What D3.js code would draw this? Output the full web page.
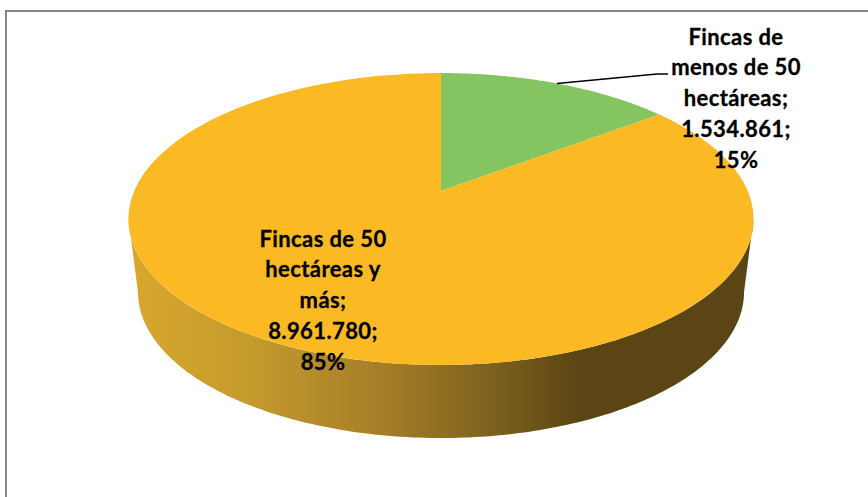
<!DOCTYPE html>
<html>
<head>
	<meta charset="utf-8" />
	<style>
		body {
			margin: 0;
			background-color: #fff;
			overflow: hidden;
		}

		text {
			font: bold 22px Lato, Carlito, sans-serif;
			letter-spacing: 0.4px;
			fill: #000;
			stroke: #000;
			stroke-width: 0.3px;
			text-anchor: middle;
		}
	</style>
</head>

<body>
	<div id="chart-area"></div>

	<script src="https://cdnjs.cloudflare.com/ajax/libs/d3/7.8.5/d3.min.js"></script>

	<script>
		// data
		const categories = ['Fincas de menos de 50 hectáreas', 'Fincas de 50 hectáreas y más'];
		const values = [1534861, 8961780];
		const percents = [0.15, 0.85];
		const nameLines = [
			['Fincas de', 'menos de 50', 'hectáreas;'],
			['Fincas de 50', 'hectáreas y', 'más;'],
		];

		const width = 868,
			height = 497;
		const colors = ['#84c561', '#fbba23'];
		// label centre x, first line y
		const labelPos = [
			[736, 37],
			[323, 239],
		];
		const lineHeight = 30.7;

		// side shading, left to right
		const sideStops = [
			[0, '#d9a72e'],
			[0.2, '#c49a2c'],
			[0.4, '#a67f28'],
			[0.55, '#84671f'],
			[0.72, '#5c4514'],
			[1, '#5c4514'],
		];

		const es = d3.formatLocale({ decimal: ',', thousands: '.', grouping: [3], currency: ['', ''] });
		const fmtValue = es.format(',d');
		const fmtPct = d3.format('.0%');

		// perspective projection of the unit disc, a = clockwise from 12 o'clock
		const persp = 0.192;
		function project(a, r, disc) {
			const u = Math.sin(a) * r,
				v = Math.cos(a) * r,
				w = 1 + persp * v;
			return [disc.cx + (disc.b * u) / w, disc.cy - (disc.a * v) / w];
		}
		const topDisc = { cx: 441, cy: 191, b: 306.7, a: 140.6 };
		const botDisc = { cx: 441, cy: 264, b: 297.4, a: 140.6 };

		const svg = d3
			.select('#chart-area')
			.append('svg')
			.attr('width', width)
			.attr('height', height);

		// chart frame, only top and left sides are visible
		svg.append('path')
			.attr('d', `M6,${height} V11 H${width}`)
			.attr('fill', 'none')
			.attr('stroke', '#868686')
			.attr('stroke-width', 2);

		const grad = svg
			.append('defs')
			.append('linearGradient')
			.attr('id', 'side')
			.attr('gradientUnits', 'userSpaceOnUse')
			.attr('x1', 128)
			.attr('x2', 753)
			.attr('y1', 0)
			.attr('y2', 0);
		grad.selectAll('stop')
			.data(sideStops)
			.join('stop')
			.attr('offset', d => d[0])
			.attr('stop-color', d => d[1]);

		const pie = d3.pie().sort(null);
		const arcs = pie(values);
		const line = d3.line();
		const angleRange = (a0, a1) => d3.range(0, 181).map(i => a0 + ((a1 - a0) * i) / 180);

		// side wall, between the widest points of both discs
		const widest = Math.acos(-persp);
		const front = angleRange(widest, 2 * Math.PI - widest);
		const rim = front
			.map(a => project(a, 1, topDisc))
			.concat(front.slice().reverse().map(a => project(a, 1, botDisc)));
		svg.append('path')
			.attr('d', line(rim) + 'Z')
			.attr('fill', 'url(#side)');

		// top face
		svg.selectAll('.slice')
			.data(arcs)
			.join('path')
			.attr('class', 'slice')
			.attr('fill', (d, i) => colors[i])
			.attr('d', d => {
				const pts = angleRange(d.startAngle, d.endAngle).map(a => project(a, 1, topDisc));
				return line([project(0, 0, topDisc), ...pts]) + 'Z';
			});

		// leader line of the small slice
		const mid = (arcs[0].startAngle + arcs[0].endAngle) / 2;
		const anchor = project(mid, 1, topDisc);
		svg.append('path')
			.attr('d', line([anchor, [657, 74], [668, 74]]))
			.attr('fill', 'none')
			.attr('stroke', '#000')
			.attr('stroke-width', 1.5);

		// labels
		categories.forEach((c, i) => {
			const rows = [...nameLines[i], fmtValue(values[i]) + ';', fmtPct(percents[i])];
			svg.append('g')
				.attr('aria-label', c)
				.selectAll('text')
				.data(rows)
				.join('text')
				.attr('x', labelPos[i][0])
				.attr('y', (d, j) => labelPos[i][1] + j * lineHeight)
				.attr('dy', '0.35em')
				.text(d => d);
		});
	</script>
</body>
</html>
